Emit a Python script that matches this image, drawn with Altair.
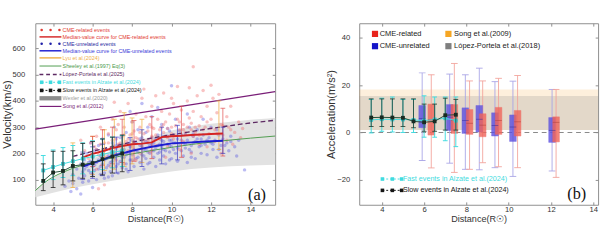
import altair as alt
import pandas as pd

# ================= panel (a): velocity vs distance =================
red_x = [5.6, 5.8, 5.9, 6.0, 6.1, 6.2, 6.3, 6.4, 6.5, 6.2, 6.3, 6.6,
         6.6, 6.7, 6.8, 6.9, 7.0, 7.0, 7.1, 7.2, 7.3, 7.4, 7.5, 7.5,
         7.6, 7.7, 7.8, 7.9, 8.0, 8.0, 8.1, 8.2, 8.3, 8.4, 8.5, 8.5,
         8.6, 8.7, 8.8, 8.9, 9.0, 9.0, 9.1, 9.2, 9.3, 9.4, 9.5, 9.5,
         9.6, 9.6, 9.7, 9.8, 9.9, 10.0, 10.1, 10.2, 10.3, 10.3, 10.4, 10.5,
         10.6, 10.7, 10.8, 10.9, 10.9, 11.0, 11.1, 11.1, 11.2, 11.3, 11.4, 11.5,
         11.6, 11.7, 11.8, 11.9, 12.0, 12.1, 12.2, 12.3, 12.4, 12.5, 12.6,
         12.8, 12.9, 13.0, 13.2, 13.4, 13.6, 13.1, 12.8,
         6.5, 7.2, 7.8, 8.4, 9.2, 9.8, 10.6, 11.4, 12.2,
         5.4, 6.9, 7.6, 8.2, 8.9, 9.7, 10.4, 11.0, 11.8, 12.5, 13.5, 7.1, 8.6, 10.0, 12.0,
         6.0, 6.2, 6.4, 6.6, 6.8, 7.0, 7.2, 7.4, 7.6, 7.8, 8.0, 8.2, 8.4, 8.6, 8.8,
         9.0, 9.2, 9.4, 9.6, 9.8, 10.0, 10.2, 10.4, 10.6, 10.8, 11.0, 11.2, 11.4, 11.6,
         11.8, 12.0, 12.3, 12.6, 13.0, 7.3, 8.1, 9.1, 10.1, 11.1]
red_v = [210, 180, 240, 160, 225, 265, 195, 300, 215, 140, 65, 80,
         240, 185, 275, 220, 330, 250, 200, 290, 235, 360, 265, 215,
         300, 245, 390, 270, 225, 320, 285, 350, 255, 300, 230, 410,
         275, 340, 250, 310, 380, 265, 295, 420, 330, 255, 300, 360,
         430, 280, 320, 260, 350, 300, 390, 270, 455, 330, 290, 365,
         310, 280, 400, 450, 335, 290, 530, 360, 300, 420, 270, 340,
         440, 300, 380, 275, 330, 410, 290, 355, 425, 310, 270,
         340, 300, 380, 280, 320, 295, 235, 250,
         190, 175, 210, 200, 230, 225, 245, 235, 245,
         250, 150, 160, 175, 205, 185, 215, 200, 225, 200, 260, 395, 445, 410, 460,
         200, 215, 235, 210, 240, 225, 255, 240, 270, 255, 275, 260, 280, 250, 285,
         300, 270, 290, 310, 295, 275, 305, 320, 290, 300, 315, 280, 305, 290,
         320, 295, 275, 305, 290, 310, 240, 250, 255, 265]

blue_x = [4.6, 4.8, 4.9, 5.0, 5.0, 5.2, 5.2, 5.3, 5.4, 5.4, 5.5, 5.5, 5.6, 5.6,
          5.7, 5.7, 5.8, 5.8, 5.9, 5.9, 6.0, 6.0, 6.0, 6.1, 6.1, 6.2, 6.2, 6.3, 6.3, 6.4, 6.4, 6.5, 6.5,
          6.6, 6.6, 6.7, 6.7, 6.8, 6.8, 6.9, 6.9, 7.0, 7.0, 7.0, 7.1, 7.1, 7.2, 7.2, 7.3, 7.3, 7.4, 7.4, 7.5, 7.5,
          7.6, 7.6, 7.7, 7.7, 7.8, 7.8, 7.9, 7.9, 8.0, 8.0, 8.0, 8.1, 8.1, 8.2, 8.2, 8.3, 8.3, 8.4, 8.4, 8.5, 8.5,
          8.6, 8.6, 8.7, 8.7, 8.8, 8.8, 8.9, 8.9, 9.0, 9.0, 9.0, 9.1, 9.1, 9.2, 9.2, 9.3, 9.3, 9.4, 9.4, 9.5, 9.5,
          9.6, 9.6, 9.7, 9.7, 9.8, 9.8, 9.9, 9.9, 10.0, 10.0, 10.0, 10.1, 10.1, 10.2, 10.2, 10.3, 10.3, 10.4, 10.4, 10.5, 10.5,
          10.6, 10.6, 10.7, 10.7, 10.8, 10.8, 10.9, 11.0, 11.0, 11.1, 11.2, 11.2, 11.3, 11.4, 11.5, 11.5,
          11.6, 11.7, 11.8, 11.9, 12.0, 12.0, 12.1, 12.2, 12.3, 12.4, 12.5, 12.6,
          12.8, 12.9, 13.0, 13.2, 13.4, 13.7, 13.3,
          8.5, 9.3, 7.9, 10.8, 11.6, 6.2, 7.4, 8.7, 9.9, 11.1, 12.3, 5.9, 6.8,
          5.6, 5.8, 6.0, 6.1, 6.3, 6.4, 6.5, 6.7, 6.8, 6.9, 7.0, 7.1, 7.2, 7.3, 7.4,
          7.5, 7.6, 7.7, 7.8, 7.9, 8.0, 8.1, 8.2, 8.3, 8.4, 8.5, 8.6, 8.7, 8.8, 8.9,
          9.0, 9.1, 9.2, 9.3, 9.4, 9.5, 9.6, 9.7, 9.8, 9.9, 10.0, 10.1, 10.2, 10.3, 10.5,
          10.7, 10.9, 11.1, 11.3, 11.5, 11.8, 12.1, 12.4, 12.7, 13.0, 6.6, 7.7, 8.8, 9.9, 11.0]
blue_v = [75, 95, 55, 120, 85, 140, 65, 105, 160, 45, 130, 90, 175, 115,
          150, 200, 95, 135, 170, 240, 120, 185, 70, 155, 210, 100, 165, 230, 140, 190, 120, 255, 160,
          175, 105, 215, 145, 190, 270, 130, 165, 200, 240, 115, 180, 300, 150, 220, 195, 125, 260, 170, 210, 145,
          185, 235, 160, 280, 200, 130, 225, 175, 250, 195, 320, 150, 215, 240, 180, 205, 290, 165, 230, 260, 195,
          215, 140, 245, 180, 300, 205, 230, 165, 260, 210, 340, 185, 240, 220, 150, 270, 200, 235, 175, 250, 310,
          215, 190, 265, 160, 235, 295, 205, 250, 458, 225, 180, 270, 240, 200, 330, 255, 170, 230, 285, 210, 250,
          240, 190, 275, 220, 250, 165, 300, 230, 205, 265, 245, 180, 290, 225, 255, 200,
          270, 235, 195, 260, 240, 300, 215, 250, 185, 270, 230, 255,
          240, 210, 265, 225, 250, 137, 190,
          390, 375, 360, 350, 330, 215, 235, 280, 285, 275, 290, 125, 110,
          140, 165, 150, 135, 175, 150, 205, 180, 155, 215, 170, 230, 195, 160, 205,
          185, 215, 195, 240, 205, 175, 245, 210, 185, 255, 225, 190, 215, 240, 200,
          235, 210, 255, 230, 205, 225, 245, 210, 265, 230, 250, 215, 240, 220, 270,
          235, 215, 240, 255, 230, 250, 235, 215, 230, 245, 125, 140, 160, 175, 185]

median_dist = [5.5, 6.0, 6.5, 7.0, 7.5, 8.0, 8.5, 9.0, 9.5, 10.0, 10.5, 11.0, 11.5, 12.0, 12.6]
median_red = [185, 198, 208, 220, 228, 235, 237, 242, 262, 265, 267, 270, 272, 274, 276]
median_blue = [150, 163, 175, 190, 200, 210, 218, 225, 232, 238, 240, 242, 244, 246, 248]

red_bar_x = [6.0, 6.5, 7.0, 7.5, 8.1, 9.0, 10.5, 12.6]
red_bar_lo = [150, 155, 160, 165, 170, 180, 185, 190]
red_bar_hi = [265, 290, 300, 330, 325, 340, 380, 372]
blue_bar_x = [5.5, 6.0, 6.5, 7.2, 7.9, 8.5, 9.5, 10.3, 12.6]
blue_bar_lo = [100, 105, 115, 125, 135, 150, 160, 175, 200]
blue_bar_hi = [205, 225, 235, 262, 260, 290, 300, 307, 300]
lyu_x = [5.0, 6.0, 6.6, 7.1, 7.6, 8.0, 8.5, 12.4]
lyu_lo = [70, 120, 135, 140, 150, 160, 165, 215]
lyu_hi = [240, 265, 290, 330, 355, 335, 330, 400]

alzate_dist = [3.5, 4.0, 4.5, 5.0, 5.5, 6.0, 6.5, 7.0, 7.5]
fast_v = [135, 148, 160, 170, 180, 188, 196, 204, 210]
fast_v_lo = [92, 100, 108, 115, 122, 130, 138, 145, 150]
fast_v_hi = [192, 213, 222, 230, 240, 248, 255, 262, 268]
slow_v = [95, 127, 133, 152, 157, 163, 178, 188, 200]
slow_v_lo = [58, 70, 80, 95, 105, 112, 118, 125, 130]
slow_v_hi = [160, 208, 208, 210, 238, 245, 255, 262, 270]

sheeley_x = [3.1, 3.5, 4.0, 4.5, 5.0, 5.5, 6.0, 7.0, 8.0, 9.0, 10.0, 11.0, 12.0, 13.0, 14.0, 15.25]
sheeley_v = [58, 85, 110, 128, 143, 155, 165, 183, 198, 211, 223, 234, 243, 251, 258, 266]

wexler_x = [3.1, 4.0, 5.0, 6.0, 7.0, 8.0, 9.0, 10.0, 11.0, 12.0, 13.0, 14.0, 15.25]
wexler_lo = [33, 50, 68, 82, 96, 108, 120, 131, 140, 146, 151, 154, 157]
wexler_hi = [62, 108, 145, 180, 212, 240, 265, 287, 302, 313, 321, 328, 335]

lopez25_x = [5.0, 6.0, 7.0, 8.0, 9.0, 10.0, 11.0, 12.0, 13.0, 14.0, 15.25]
lopez25_v = [188, 208, 226, 243, 258, 271, 283, 295, 306, 316, 326]

song12_x = [3.1, 15.25]
song12_v = [292, 435]

legend_a_labels = ["CME-related events", "Median-value curve for CME-related events",
                   "CME-unrelated events", "Median-value curve for CME-unrelated events",
                   "Lyu et al.(2024)", "Sheeley et al.(1997) Eq(3)", "López-Portela et al.(2025)",
                   "Fast events in Alzate et al.(2024)", "Slow events in Alzate et al.(2024)",
                   "Wexler et al.(2020)", "Song et al.(2012)"]

# ================= panel (b): acceleration =================
blue_box_x = [5.91, 7.21, 7.95, 8.61, 9.35, 10.2, 12.05]
blue_q1 = [2.0, 0.8, -0.4, 0.2, -1.5, -3.8, -4.2]
blue_q3 = [11.4, 11.8, 10.4, 11.4, 8.3, 7.4, 6.3]
blue_med = [6.0, 6.5, 5.0, 5.6, 3.0, 2.3, 0.9]
blue_wlo = [-11.9, -13.0, -15.6, -15.8, -14.9, -18.6, -16.3]
blue_whi = [25.2, 24.7, 24.4, 27.2, 21.5, 21.7, 18.2]
red_box_x = [6.34, 7.43, 8.15, 8.77, 9.52, 10.42, 12.24]
red_q1 = [-1.1, -0.4, -0.8, -1.8, -0.8, -1.5, -4.0]
red_q3 = [12.0, 11.8, 9.7, 7.9, 10.6, 9.3, 6.6]
red_med = [5.5, 5.0, 3.9, 3.1, 5.0, 4.5, 4.3]
red_wlo = [-15.0, -16.9, -15.6, -12.8, -14.5, -14.9, -19.0]
red_whi = [24.4, 29.2, 21.8, 21.8, 22.9, 24.1, 18.2]

fast_a = [5.3, 5.6, 5.5, 5.5, 5.3, 5.0, 5.5, 6.0, 5.0]
fast_a_lo = [-0.2, 0.5, 0.2, 0.0, 0.0, -2.0, -2.0, -3.5, -6.0]
fast_a_hi = [14.0, 14.5, 15.0, 14.0, 14.0, 15.5, 15.0, 15.0, 15.0]
slow_a = [6.3, 6.4, 6.3, 6.2, 4.7, 4.3, 4.7, 7.3, 7.5]
slow_a_lo = [2.5, 2.5, 2.5, 2.5, 2.0, 0.5, 0.5, 1.0, 1.0]
slow_a_hi = [14.2, 14.2, 14.2, 14.2, 14.2, 12.0, 12.0, 14.5, 14.0]

song09_band = [1.0, 18.2]
lopez18_band = [1.0, 15.4]

# ================= styling =================
FONT = "Liberation Sans"
C_RED = "#e23a32"
C_BLUE = "#2424c8"
C_ORANGE = "#efb04a"
C_GREEN = "#4c9a4c"
C_PURPLE = "#7a1f78"
C_DPURPLE = "#5e2a63"
C_CYAN = "#3fdbe0"
C_BLACK = "#151515"
C_GRAY = "#9a9a9a"

XA = alt.Scale(domain=[3.1, 15.25], nice=False, zero=False)
YA = alt.Scale(domain=[4, 696], nice=False, zero=False)
XB = alt.Scale(domain=[3.16, 14], nice=False, zero=False)
YB = alt.Scale(domain=[-30.6, 46.2], nice=False, zero=False)

W_A, W_B, H = 251, 250, 190


def X(field, sc):
    return alt.X(field, type="quantitative", scale=sc, axis=None)


def Y(field, sc):
    return alt.Y(field, type="quantitative", scale=sc, axis=None)


def errbars(df, xf, lo, hi, color, xs, ys, width=1.0, cap=6, opacity=1.0):
    base = alt.Chart(df)
    rule = base.mark_rule(color=color, strokeWidth=width, opacity=opacity).encode(
        x=X(xf, xs), y=Y(lo, ys), y2=alt.Y2(hi))
    c1 = base.mark_tick(color=color, orient="horizontal", size=cap, thickness=width,
                        opacity=opacity).encode(x=X(xf, xs), y=Y(lo, ys))
    c2 = base.mark_tick(color=color, orient="horizontal", size=cap, thickness=width,
                        opacity=opacity).encode(x=X(xf, xs), y=Y(hi, ys))
    return [rule, c1, c2]


def axes_layers(df, xf, yf, xs, ys, xvals, yvals, xtitle, ytitle, label_pad_y):
    main = alt.Chart(df).mark_point(opacity=0).encode(
        x=alt.X(xf, type="quantitative", scale=xs,
                axis=alt.Axis(values=xvals, title=xtitle, orient="bottom", offset=-3, tickSize=3,
                              domain=False, grid=False, labelPadding=1, titlePadding=1,
                              titleFontSize=9.5, format="d")),
        y=alt.Y(yf, type="quantitative", scale=ys,
                axis=alt.Axis(values=yvals, title=ytitle, orient="left", offset=-3, tickSize=3,
                              domain=False, grid=False, labelPadding=label_pad_y, titlePadding=0,
                              titleFontSize=11.5, format="d")))
    mirror = alt.Chart(df).mark_point(opacity=0).encode(
        x=alt.X(xf, type="quantitative", scale=xs,
                axis=alt.Axis(values=xvals, title=None, orient="top", offset=-3, tickSize=3,
                              domain=False, grid=False, labels=False)),
        y=alt.Y(yf, type="quantitative", scale=ys,
                axis=alt.Axis(values=yvals, title=None, orient="right", offset=-3, tickSize=3,
                              domain=False, grid=False, labels=False)))
    return [main, mirror]


# ---------- panel (a) layers ----------
df_wex = pd.DataFrame({"d": wexler_x, "lo": wexler_lo, "hi": wexler_hi})
df_red = pd.DataFrame({"d": red_x, "v": red_v})
df_blue = pd.DataFrame({"d": blue_x, "v": blue_v})
df_med = pd.DataFrame({"d": median_dist, "r": median_red, "b": median_blue})
df_rbar = pd.DataFrame({"d": red_bar_x, "lo": red_bar_lo, "hi": red_bar_hi})
df_bbar = pd.DataFrame({"d": blue_bar_x, "lo": blue_bar_lo, "hi": blue_bar_hi})
df_lyu = pd.DataFrame({"d": lyu_x, "lo": lyu_lo, "hi": lyu_hi})
df_fast = pd.DataFrame({"d": alzate_dist, "v": fast_v, "lo": fast_v_lo, "hi": fast_v_hi})
df_slow = pd.DataFrame({"d": alzate_dist, "v": slow_v, "lo": slow_v_lo, "hi": slow_v_hi})
df_she = pd.DataFrame({"d": sheeley_x, "v": sheeley_v})
df_lp = pd.DataFrame({"d": lopez25_x, "v": lopez25_v})
df_song = pd.DataFrame({"d": song12_x, "v": song12_v})

band = alt.Chart(df_wex).mark_area(color="#e2e2e2").encode(
    x=X("d", XA), y=Y("lo", YA), y2=alt.Y2("hi"))
pts_b = alt.Chart(df_blue).mark_circle(color="#5050e0", size=13, opacity=0.38).encode(
    x=X("d", XA), y=Y("v", YA))
pts_r = alt.Chart(df_red).mark_circle(color="#f07070", size=13, opacity=0.42).encode(
    x=X("d", XA), y=Y("v", YA))
song_line = alt.Chart(df_song).mark_line(color=C_PURPLE, strokeWidth=1.3).encode(
    x=X("d", XA), y=Y("v", YA))
she_line = alt.Chart(df_she).mark_line(color=C_GREEN, strokeWidth=1, interpolate="monotone").encode(
    x=X("d", XA), y=Y("v", YA))
lp_line = alt.Chart(df_lp).mark_line(color=C_DPURPLE, strokeWidth=1.4, strokeDash=[5, 3],
                                     interpolate="monotone").encode(x=X("d", XA), y=Y("v", YA))
lyu_bars = errbars(df_lyu, "d", "lo", "hi", C_ORANGE, XA, YA, width=1, cap=5, opacity=0.8)
rbars = errbars(df_rbar, "d", "lo", "hi", "#e04848", XA, YA, width=1, cap=5, opacity=0.7)
bbars = errbars(df_bbar, "d", "lo", "hi", "#3535c0", XA, YA, width=1, cap=5, opacity=0.7)
med_r = alt.Chart(df_med).mark_line(color="#d42424", strokeWidth=2).encode(x=X("d", XA), y=Y("r", YA))
med_b = alt.Chart(df_med).mark_line(color="#1c1cd0", strokeWidth=2).encode(x=X("d", XA), y=Y("b", YA))
fast_bars = errbars(df_fast, "d", "lo", "hi", C_CYAN, XA, YA, width=1, cap=5)
fast_line = alt.Chart(df_fast).mark_line(color=C_CYAN, strokeWidth=1).encode(x=X("d", XA), y=Y("v", YA))
fast_pts = alt.Chart(df_fast).mark_square(color="#3cc8cf", size=16, opacity=1).encode(
    x=X("d", XA), y=Y("v", YA))
slow_bars = errbars(df_slow, "d", "lo", "hi", "#222222", XA, YA, width=1, cap=5, opacity=0.85)
slow_line = alt.Chart(df_slow).mark_line(color="#1f4a35", strokeWidth=1).encode(x=X("d", XA), y=Y("v", YA))
slow_pts = alt.Chart(df_slow).mark_square(color="#1a2a22", size=16, opacity=1).encode(
    x=X("d", XA), y=Y("v", YA))

# legend (a), placed in data coordinates
LEG_A_ROWS = [670, 644, 618, 591, 564, 533, 501, 471, 440, 410, 379]
LEG_A_X0, LEG_A_X1, LEG_A_TX = 3.31, 4.42, 4.48
LEG_A_DOTS = [3.42, 3.87, 4.32]
leg_a_colors = [C_RED, C_RED, "#2a2aa0", "#3a3ad8", C_ORANGE, C_GREEN, C_DPURPLE,
                C_CYAN, C_BLACK, C_GRAY, C_PURPLE]
df_leg_txt = pd.DataFrame({"x": [LEG_A_TX] * 11, "y": LEG_A_ROWS,
                           "t": legend_a_labels, "c": leg_a_colors})
leg_txt = alt.Chart(df_leg_txt).mark_text(align="left", baseline="middle", fontSize=5.6,
                                          font=FONT).encode(
    x=X("x", XA), y=Y("y", YA), text="t:N", color=alt.Color("c:N", scale=None))
line_rows = [1, 3, 4, 5, 10]
df_leg_lines = pd.DataFrame({
    "x": [LEG_A_X0] * len(line_rows), "x2": [LEG_A_X1] * len(line_rows),
    "y": [LEG_A_ROWS[i] for i in line_rows],
    "c": ["#d42424", "#1c1cd0", C_ORANGE, C_GREEN, C_PURPLE],
    "w": [1.5, 1.5, 1.5, 1.0, 1.2]})
leg_lines = alt.Chart(df_leg_lines).mark_rule().encode(
    x=X("x", XA), x2=alt.X2("x2"), y=Y("y", YA),
    color=alt.Color("c:N", scale=None), strokeWidth=alt.StrokeWidth("w:Q", scale=None))
df_leg_dash = pd.DataFrame({"x": [LEG_A_X0], "x2": [LEG_A_X1], "y": [LEG_A_ROWS[6]]})
leg_dash = alt.Chart(df_leg_dash).mark_rule(color=C_DPURPLE, strokeWidth=1.5, strokeDash=[4, 3]).encode(
    x=X("x", XA), x2=alt.X2("x2"), y=Y("y", YA))
df_leg_wex = pd.DataFrame({"x": [LEG_A_X0], "x2": [LEG_A_X1], "y": [LEG_A_ROWS[9]]})
leg_wex = alt.Chart(df_leg_wex).mark_rule(color="#8c8c8c", strokeWidth=4.5).encode(
    x=X("x", XA), x2=alt.X2("x2"), y=Y("y", YA))
df_leg_dots = pd.DataFrame({"x": LEG_A_DOTS * 2,
                            "y": [LEG_A_ROWS[0]] * 3 + [LEG_A_ROWS[2]] * 3,
                            "c": [C_RED] * 3 + ["#2020a8"] * 3})
leg_dots = alt.Chart(df_leg_dots).mark_circle(size=7, opacity=1).encode(
    x=X("x", XA), y=Y("y", YA), color=alt.Color("c:N", scale=None))
df_leg_alz = pd.DataFrame({"x": LEG_A_DOTS * 2,
                           "y": [LEG_A_ROWS[7]] * 3 + [LEG_A_ROWS[8]] * 3,
                           "c": [C_CYAN] * 3 + [C_BLACK] * 3,
                           "g": ["f"] * 3 + ["s"] * 3})
leg_alz_l = alt.Chart(df_leg_alz).mark_line(strokeWidth=1, strokeDash=[2, 2]).encode(
    x=X("x", XA), y=Y("y", YA), color=alt.Color("c:N", scale=None), detail="g:N")
leg_alz_p = alt.Chart(df_leg_alz).mark_square(size=14, opacity=1).encode(
    x=X("x", XA), y=Y("y", YA), color=alt.Color("c:N", scale=None))
df_tag_a = pd.DataFrame({"x": [14.33], "y": [40], "t": ["(a)"]})
tag_a = alt.Chart(df_tag_a).mark_text(font="Liberation Serif", fontSize=17, baseline="middle",
                                      align="center", color="#111").encode(
    x=X("x", XA), y=Y("y", YA), text="t:N")

panel_a = alt.layer(
    *axes_layers(df_wex, "d", "lo", XA, YA, [4, 6, 8, 10, 12, 14], [100, 200, 300, 400, 500, 600],
                 "Distance(R☉)", "Velocity(km/s)", 11),
    band, pts_b, pts_r, song_line, she_line, lp_line, *lyu_bars, *rbars, *bbars, med_r, med_b,
    *fast_bars, fast_line, fast_pts, *slow_bars, slow_line, slow_pts,
    leg_lines, leg_dash, leg_wex, leg_dots, leg_alz_l, leg_alz_p, leg_txt, tag_a
).resolve_axis(x="independent", y="independent").properties(width=W_A, height=H)

# ---------- panel (b) layers ----------
df_bands = pd.DataFrame({"lo": [song09_band[0], lopez18_band[0]], "hi": [song09_band[1], lopez18_band[1]],
                         "c": ["#f6a93b", "#8a8a8a"], "o": [0.18, 0.22]})
bands = alt.Chart(df_bands).mark_rect().encode(
    y=Y("lo", YB), y2=alt.Y2("hi"), color=alt.Color("c:N", scale=None),
    opacity=alt.Opacity("o:Q", scale=None))
df_zero = pd.DataFrame({"z": [0]})
zero = alt.Chart(df_zero).mark_rule(color="#8a8a8a", strokeWidth=1.2, strokeDash=[5, 4]).encode(
    y=Y("z", YB))
df_bbox = pd.DataFrame({"d": blue_box_x, "q1": blue_q1, "q3": blue_q3, "m": blue_med,
                        "lo": blue_wlo, "hi": blue_whi})
df_rbox = pd.DataFrame({"d": red_box_x, "q1": red_q1, "q3": red_q3, "m": red_med,
                        "lo": red_wlo, "hi": red_whi})
bwh = errbars(df_bbox, "d", "lo", "hi", "#a7a3e6", XB, YB, width=1, cap=7, opacity=0.9)
rwh = errbars(df_rbox, "d", "lo", "hi", "#f2a29a", XB, YB, width=1, cap=7, opacity=0.9)
bbox = alt.Chart(df_bbox).mark_bar(size=7, orient="vertical", color="#5a4ee0", opacity=0.8,
                                   stroke="#5a4ee0", strokeWidth=0.5).encode(
    x=X("d", XB), y=Y("q1", YB), y2=alt.Y2("q3"))
rbox = alt.Chart(df_rbox).mark_bar(size=7, orient="vertical", color="#f0645a", opacity=0.8,
                                   stroke="#f0645a", strokeWidth=0.5).encode(
    x=X("d", XB), y=Y("q1", YB), y2=alt.Y2("q3"))
bmed = alt.Chart(df_bbox).mark_tick(orient="horizontal", size=7, thickness=0.8, color="#3a2f9a").encode(
    x=X("d", XB), y=Y("m", YB))
rmed = alt.Chart(df_rbox).mark_tick(orient="horizontal", size=7, thickness=0.8, color="#b0403a").encode(
    x=X("d", XB), y=Y("m", YB))
df_fa = pd.DataFrame({"d": alzate_dist, "a": fast_a, "lo": fast_a_lo, "hi": fast_a_hi})
df_sa = pd.DataFrame({"d": alzate_dist, "a": slow_a, "lo": slow_a_lo, "hi": slow_a_hi})
fa_bars = errbars(df_fa, "d", "lo", "hi", C_CYAN, XB, YB, width=1, cap=5)
fa_line = alt.Chart(df_fa).mark_line(color=C_CYAN, strokeWidth=1).encode(x=X("d", XB), y=Y("a", YB))
fa_pts = alt.Chart(df_fa).mark_square(color="#3cc8cf", size=16, opacity=1).encode(x=X("d", XB), y=Y("a", YB))
sa_bars = errbars(df_sa, "d", "lo", "hi", "#1f3a2c", XB, YB, width=1, cap=5, opacity=0.85)
sa_line = alt.Chart(df_sa).mark_line(color="#1f4a35", strokeWidth=1).encode(x=X("d", XB), y=Y("a", YB))
sa_pts = alt.Chart(df_sa).mark_square(color="#1a2a22", size=16, opacity=1).encode(x=X("d", XB), y=Y("a", YB))

# legend (b), in data coordinates
LEG_B_ROWS = [41.7, 36.5]
LEG_B_SQ = [3.68, 7.15]
LEG_B_TX = [3.9, 7.42]
df_lb_sq = pd.DataFrame({"x": [LEG_B_SQ[0], LEG_B_SQ[0], LEG_B_SQ[1], LEG_B_SQ[1]],
                         "y": [LEG_B_ROWS[0], LEG_B_ROWS[1], LEG_B_ROWS[0], LEG_B_ROWS[1]],
                         "c": ["#e8231c", "#1414c8", "#f6a623", "#7f7f7f"]})
lb_sq = alt.Chart(df_lb_sq).mark_square(size=42, opacity=1).encode(
    x=X("x", XB), y=Y("y", YB), color=alt.Color("c:N", scale=None))
df_lb_tx = pd.DataFrame({"x": [LEG_B_TX[0], LEG_B_TX[0], LEG_B_TX[1], LEG_B_TX[1]],
                         "y": [LEG_B_ROWS[0], LEG_B_ROWS[1], LEG_B_ROWS[0], LEG_B_ROWS[1]],
                         "t": ["CME-related", "CME-unrelated", "Song et al.(2009)", "López-Portela et al.(2018)"]})
lb_tx = alt.Chart(df_lb_tx).mark_text(align="left", baseline="middle", fontSize=7.8, font=FONT,
                                      color="#1a1a1a").encode(x=X("x", XB), y=Y("y", YB), text="t:N")
LEG_B2_ROWS = [-19.7, -24.5]
LEG_B2_MK = [4.03, 4.5, 4.94]
LEG_B2_TX = 5.0
df_lb2 = pd.DataFrame({"x": LEG_B2_MK * 2, "y": [LEG_B2_ROWS[0]] * 3 + [LEG_B2_ROWS[1]] * 3,
                       "c": [C_CYAN] * 3 + [C_BLACK] * 3, "g": ["f"] * 3 + ["s"] * 3})
lb2_l = alt.Chart(df_lb2).mark_line(strokeWidth=1, strokeDash=[2, 2]).encode(
    x=X("x", XB), y=Y("y", YB), color=alt.Color("c:N", scale=None), detail="g:N")
lb2_p = alt.Chart(df_lb2).mark_square(size=14, opacity=1).encode(
    x=X("x", XB), y=Y("y", YB), color=alt.Color("c:N", scale=None))
df_lb2_tx = pd.DataFrame({"x": [LEG_B2_TX] * 2, "y": LEG_B2_ROWS,
                          "t": ["Fast events in Alzate et al.(2024)", "Slow events in Alzate et al.(2024)"],
                          "c": [C_CYAN, C_BLACK]})
lb2_tx = alt.Chart(df_lb2_tx).mark_text(align="left", baseline="middle", fontSize=7.5, font=FONT).encode(
    x=X("x", XB), y=Y("y", YB), text="t:N", color=alt.Color("c:N", scale=None))
df_tag_b = pd.DataFrame({"x": [13.22], "y": [-26.0], "t": ["(b)"]})
tag_b = alt.Chart(df_tag_b).mark_text(font="Liberation Serif", fontSize=17, baseline="middle",
                                      align="center", color="#111").encode(
    x=X("x", XB), y=Y("y", YB), text="t:N")

panel_b = alt.layer(
    *axes_layers(df_zero, "z", "z", XB, YB, [4, 6, 8, 10, 12, 14], [-20, 0, 20, 40],
                 "Distance(R☉)", "Acceleration(m/s²)", 10),
    bands, zero, *bwh, *rwh, bbox, rbox, bmed, rmed,
    *fa_bars, fa_line, fa_pts, *sa_bars, sa_line, sa_pts,
    lb_sq, lb_tx, lb2_l, lb2_p, lb2_tx, tag_b
).resolve_axis(x="independent", y="independent").properties(width=W_B, height=H)

chart = alt.hconcat(panel_a, panel_b, spacing=15).properties(
    padding={"left": 1, "top": 18, "right": 0, "bottom": 0}, background="white"
).configure_view(stroke="#8c8c8c", strokeWidth=1).configure_axis(
    labelFont=FONT, titleFont=FONT, labelFontSize=8, labelColor="#333333", titleColor="#333333",
    titleFontWeight="normal", tickColor="#8c8c8c", tickWidth=1)

chart.save("out.html", embed_options={"renderer": "svg", "actions": False})
